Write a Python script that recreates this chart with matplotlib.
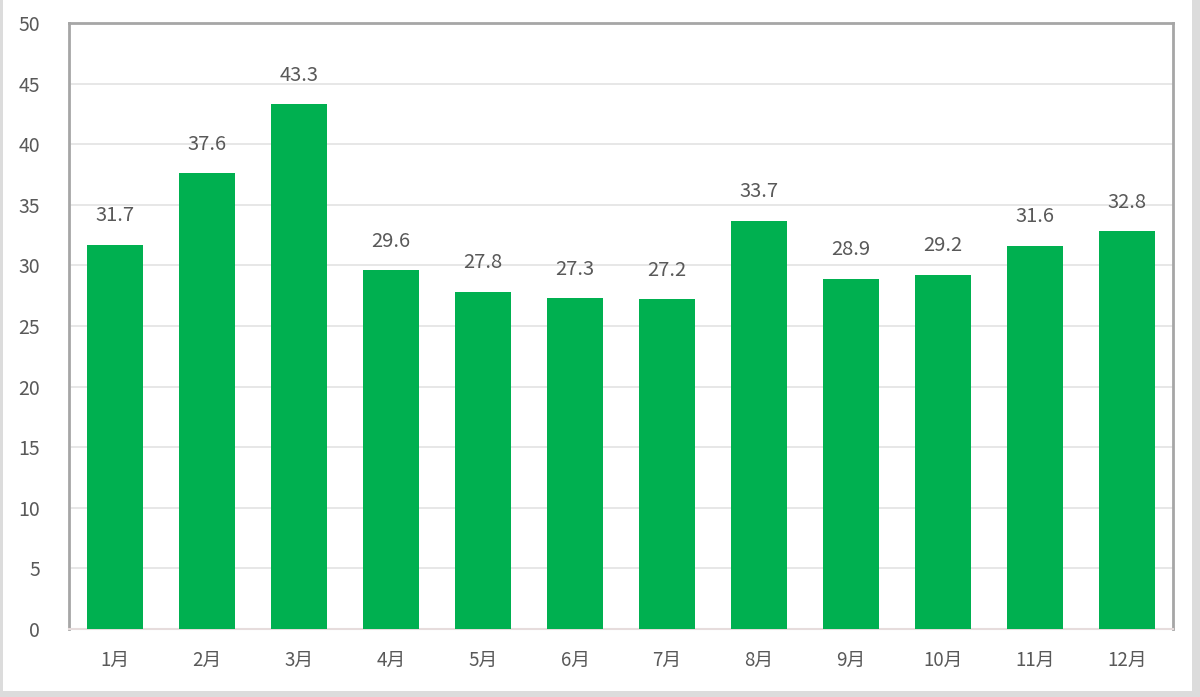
import matplotlib
matplotlib.use("Agg")
import matplotlib.pyplot as plt
from matplotlib.patches import Rectangle

plt.rcParams['font.family'] = ['Noto Sans CJK SC', 'DejaVu Sans']

# Data
months = ["1月", "2月", "3月", "4月", "5月", "6月", "7月", "8月", "9月", "10月", "11月", "12月"]
values = [31.7, 37.6, 43.3, 29.6, 27.8, 27.3, 27.2, 33.7, 28.9, 29.2, 31.6, 32.8]
yticks = [0, 5, 10, 15, 20, 25, 30, 35, 40, 45, 50]

text_color = "#595959"
bar_color = "#00B050"

fig = plt.figure(figsize=(12, 6.97), dpi=100)
ax = fig.add_axes([0.0575, 0.0976, 0.92, 0.8694])

x = list(range(len(months)))
ax.bar(x, values, width=0.6, color=bar_color, zorder=3)

# Value labels above bars
for xi, v in zip(x, values):
    ax.text(xi, v + 2.4, f"{v:.1f}", ha="center", va="center",
            fontsize=14.5, color=text_color)

ax.set_xlim(-0.5, len(months) - 0.5)
ax.set_ylim(0, 50)
ax.set_yticks(yticks)
ax.set_yticklabels([str(t) for t in yticks], fontsize=14, color=text_color)
ax.set_xticks(x)
ax.set_xticklabels(months, fontsize=13.5, color=text_color)
ax.tick_params(axis="y", length=0, pad=21)
ax.tick_params(axis="x", length=0, pad=15)

# Gridlines
ax.yaxis.grid(True, color="#e3e3e3", linewidth=1.2, zorder=0)
ax.set_axisbelow(True)

for side in ["left", "top", "right"]:
    ax.spines[side].set_color("#a6a6a6")
    ax.spines[side].set_linewidth(2)
ax.spines["bottom"].set_color("#e6dcdc")
ax.spines["bottom"].set_linewidth(1.5)

# Light strips on the left, right and bottom edges of the picture
border = "#dcdcdc"
fig.patches.append(Rectangle((0, 0), 3 / 1200, 1, transform=fig.transFigure,
                             facecolor=border, edgecolor="none"))
fig.patches.append(Rectangle((1 - 8 / 1200, 0), 8 / 1200, 1, transform=fig.transFigure,
                             facecolor=border, edgecolor="none"))
fig.patches.append(Rectangle((0, 0), 1, 6 / 697, transform=fig.transFigure,
                             facecolor=border, edgecolor="none"))

fig.savefig("out.png", dpi=100, facecolor="white")
